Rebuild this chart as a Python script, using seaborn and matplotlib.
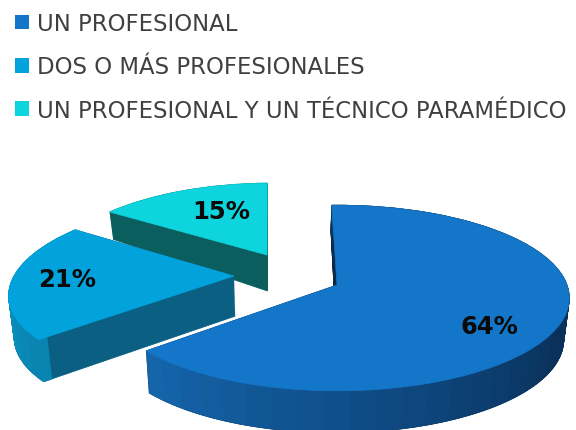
import numpy as np
import matplotlib
matplotlib.use("Agg")
import matplotlib.pyplot as plt
from matplotlib.colors import LinearSegmentedColormap
from matplotlib.patches import Patch
from matplotlib.transforms import Transform
import seaborn as sns

categories = ["UN PROFESIONAL", "DOS O MÁS PROFESIONALES", "UN PROFESIONAL Y UN TÉCNICO PARAMÉDICO"]
shares = [64, 21, 15]
top_colors = ["#1476C8", "#02A2DC", "#0ED4DE"]
cut_colors = ["#0B2A48", "#0A5F82", "#0B5E5E"]
rim_ramps = [["#0C3A62", "#0C3A62", "#0A3058", "#0E4A82", "#1565AB"],
             ["#0A84B0", "#0897C8", "#0A9BD0"],
             ["#0B6060", "#0B6060"]]
rim_segments = [40, 14, 1]
# slice apex in pixels, horizontal and vertical radius, skew, label centre
apexes = [(337, 286), (234, 277), (267, 256)]
radii = [(230, 91), (220, 88), (210, 82)]
skews = [0.0, -0.2, -0.07]
label_centres = [(489, 327), (67, 280), (221, 212)]

PERSP = 0.14


class SliceProjection(Transform):
    input_dims = 2
    output_dims = 2

    def __init__(self, apex, a, b, skew, z):
        super().__init__()
        self.apex, self.a, self.b, self.skew, self.z = apex, a, b, skew, z

    def transform_non_affine(self, values):
        v = np.asarray(values, float)
        w = 1 + PERSP * v[:, 1]
        Y = self.apex[1] - self.b * v[:, 1] / w
        X = self.apex[0] + self.a * v[:, 0] / w + self.skew * (Y - self.apex[1])
        depth = np.minimum(27 + 0.2 * (Y - 211), 42)
        return np.column_stack([X + self.z * 0.02 * (290 - X), Y + self.z * depth])


sns.set_theme(style="white")
plt.rcParams["font.family"] = ["DejaVu Sans"]
fig = plt.figure(figsize=(5.76, 4.31), dpi=100)
ax = fig.add_axes([0, 0, 1, 1])
palette = sns.color_palette(top_colors)

start_angle = 91.5
starts = []
a0 = start_angle
for v in shares:
    starts.append(a0)
    a0 -= v * 3.6


def place(wedges, i, z):
    tr = SliceProjection(apexes[i], radii[i][0], radii[i][1], skews[i], z) + ax.transData
    for w in wedges:
        w.set_transform(tr)
        w.set_edgecolor(w.get_facecolor())
        w.set_linewidth(0.5)
    wedges[-1].set_visible(False)


layers = np.linspace(1, 0, 44)
for i in [2, 1, 0]:
    v, start = shares[i], starts[i]
    for z in layers:
        wedges, _ = ax.pie([v, 100 - v], startangle=start, counterclock=False,
                           colors=[cut_colors[i], "#FFFFFF"], radius=1, center=(0, 0))
        place(wedges, i, z)
    n = rim_segments[i]
    if n > 1:
        ramp = LinearSegmentedColormap.from_list("rim", rim_ramps[i])
        cols = [ramp(k / (n - 1)) for k in range(n)] + ["#FFFFFF"]
        for z in layers:
            wedges, _ = ax.pie([v / n] * n + [100 - v], startangle=start, counterclock=False,
                               colors=cols, radius=1, center=(0, 0),
                               wedgeprops=dict(width=0.04))
            place(wedges, i, z)
    wedges, _ = ax.pie([v, 100 - v], startangle=start, counterclock=False,
                       colors=[palette[i], "#FFFFFF"], radius=1, center=(0, 0))
    place(wedges, i, 0)
    ax.text(label_centres[i][0], label_centres[i][1], f"{v}%", ha="center", va="center",
            fontsize=17.5, fontweight="bold", color="#0A0A0A", zorder=5)

ax.set_aspect("auto")
ax.set_xlim(0, 576)
ax.set_ylim(431, 0)
ax.axis("off")

handles = [Patch(facecolor=c, edgecolor="none") for c in palette]
ax.legend(handles, categories, loc="upper left", bbox_to_anchor=(15, 13),
          bbox_transform=ax.transData, frameon=False, fontsize=16.4, labelcolor="#404040",
          handlelength=0.61, handleheight=0.61, handletextpad=0.35, labelspacing=0.89,
          borderpad=0, borderaxespad=0)

fig.savefig("out.png", dpi=100)
